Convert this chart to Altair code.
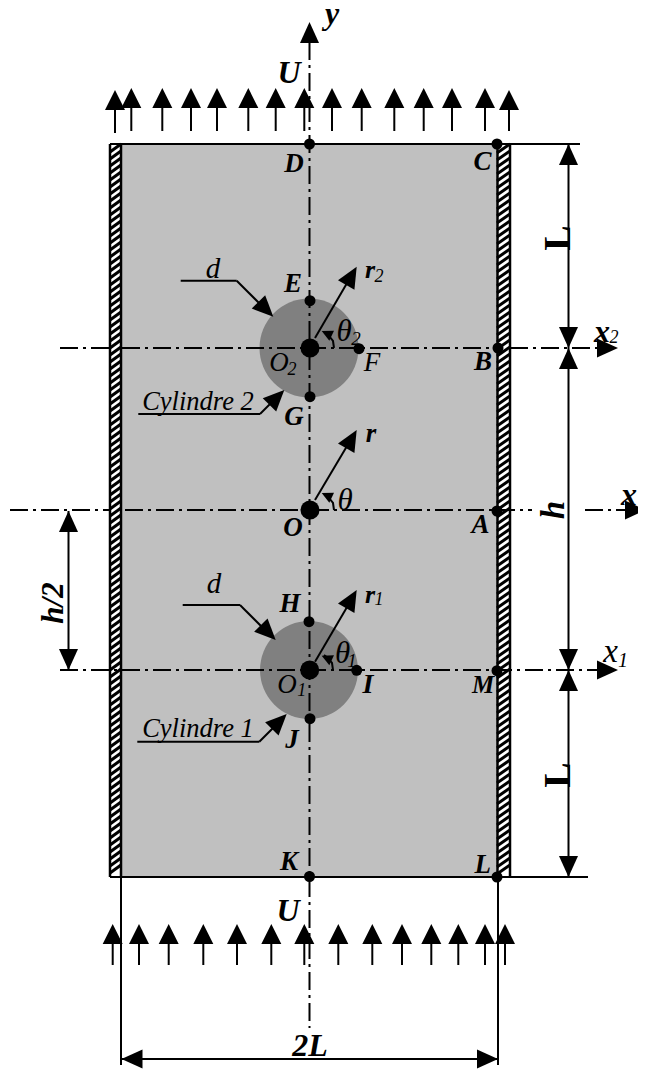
import altair as alt
import pandas as pd

# ---- picture coordinates of the schematic ----
top_x = [115,131.3,162.3,191,217,248.3,275.7,304.3,332,361.7,394.3,423.7,452,485,509]
top_tip = [90,88,88,88,88,88,88,88,88,88,88,88,88,88,90]
top_end = [133,131,131,131,131,131,131,131,131,131,131,131,131,131,131]
bot_x = [112.7,139,168.7,203.3,237,271.3,304.3,338.3,372.3,402,431.3,458.3,485,505]
bot_tip = 924
bot_end = 965

head_x = [309.5,568.5,568.5,568.5,568.5,568.5,568.5,68.5,68.5,618,646,618,121.5,498,273.3,284.3,275.7,286.7,356.7,356.7,356.7]
head_y = [22,144,348,348,670,670,877,511,670,348,510,670,1059,1059,316.7,390,640,714,266.7,430,590]
head_a = [0,0,180,0,180,0,180,0,180,90,90,90,270,90,135,45,135,45,30,30,30]

small_x = [321.7,321.7,321.7]
small_y = [331,493,655.7]
small_a = [295,295,295]

solid_x1 = [110,110,568.5,68.5,121,498,121.5,180.7,236.7,138.3,260,182.7,240,137.3,259.3,315,315,315]
solid_y1 = [144,877,144,511,877,877,1059,280.7,280.7,414,414,605,605,741.7,741.7,338,500,661.7]
solid_x2 = [580,588,568.5,68.5,121,498,498,236.7,268,260,280,240,270,259.3,283,350,350,350]
solid_y2 = [144,877,877,670,1065,1065,1059,280.7,312,414,394,605,635,741.7,718,278,441,602]

dash_x1 = [309.5,60,122,510,10,125,585,60]
dash_y1 = [42,348,348,348,510,510,510,670]
dash_x2 = [309.5,110,497,600,110,532,632,600]
dash_y2 = [1028,348,348,348,510,510,510,670]

arc_group = ["a","a","a","a","b","b","b","b","c","c","c","c"]
arc_order = [0,1,2,3,0,1,2,3,0,1,2,3]
arc_x = [334,333,329,325,334,333,329,325,333,332,328,324]
arc_y = [348,341,336,333,510,503,498,495,670,663,658,655]

dot_x = [309.5,497,310,359,310,498,497,309,356.7,310,497,309.5,497,310,310,309.7]
dot_y = [144,144,300.7,348.7,396.7,348,511,621.7,670.3,718.7,670.7,876.5,877,348,510,670]
dot_d = [11,11,11,11,11,11,11,11,11,11,11,11,11,19,19,19]

cyl_x = [309,309]
cyl_y = [348,670]
cyl_d = [99,98]

wall_x1 = [110,497]
wall_x2 = [121,510]
wall_top = 144
wall_bottom = 877
hatch_y = list(range(144, 870, 7))

bi_text = ["y","U","D","C","E","r","r","G","O","A","B","x","x","H","r","I","J","M","K","L","U","2L"]
bi_x = [332,289,294,482.5,293,370,371,294,293,480.5,483,602,629,290,370,368,292,483,289,482.7,288,310]
bi_y = [24,83,172,170,291.7,278,441.7,425,536,533,370,342,505,611.7,603,693,748,692.7,870,872.7,920.7,1055.7]
bi_s = [32,32,27,27,27,26,27,27,27,27,27,32,32,27,26,28,27,25,27,27,32,32]

i_text = ["θ","F","O","d","Cylindre 2","θ","θ","O","Cylindre 1","d","x"]
i_x = [344,372,279,213,198,345,342.7,287,198,214,610.7]
i_y = [340.7,370.7,370.7,278,410,510,663,693,736.7,592.7,661.7]
i_s = [31,27,27,29,26.5,31,31,27,26.5,29,33]

sub_text = ["2","2","2","2","1","1","1","1"]
sub_x = [379,356,292,614,379,352,301.7,623]
sub_y = [282,345,375,343,605,666.7,696,666.7]
sub_s = [18,19,18,18,18,19,18,20]

rot_text = ["L","L","h"]
rot_x = [570,570,564]
rot_y = [238,775,510]
rot_s = [38,38,33]
rot_half_text = ["h/2"]
rot_half_x = [63]
rot_half_y = [603]
rot_half_s = [31]

GRAY = "#c0c0c0"
CYL = "#808080"
SERIF = "Liberation Serif"

sx = alt.Scale(domain=[8, 638], range=[0, 630], nice=False, zero=False)
sy = alt.Scale(domain=[8, 1070], range=[0, 1062], nice=False, zero=False)
X = lambda f="x": alt.X(f"{f}:Q", scale=sx, axis=None)
Y = lambda f="y": alt.Y(f"{f}:Q", scale=sy, axis=None)

def rules(x1, y1, x2, y2, **kw):
    df = pd.DataFrame({"x": x1, "y": y1, "x2": x2, "y2": y2})
    return alt.Chart(df).mark_rule(color="black", **kw).encode(
        x=X(), y=Y(), x2="x2:Q", y2="y2:Q")

def rects(x1, y1, x2, y2, color):
    df = pd.DataFrame({"x": x1, "y": y1, "x2": x2, "y2": y2})
    return alt.Chart(df).mark_rect(color=color, strokeWidth=0).encode(
        x=X(), y=Y(), x2="x2:Q", y2="y2:Q")

def heads(x, y, a, size, path="M0,0L-1,2L1,2Z"):
    df = pd.DataFrame({"x": x, "y": y, "a": a})
    return alt.Chart(df).mark_point(filled=True, shape=path, size=size, color="black",
                                    opacity=1, strokeWidth=0).encode(
        x=X(), y=Y(), angle=alt.Angle("a:Q", scale=None))

def circles(x, y, d, color):
    df = pd.DataFrame({"x": x, "y": y, "s": [v * v for v in d]})
    return alt.Chart(df).mark_point(filled=True, shape="circle", color=color,
                                    opacity=1, strokeWidth=0).encode(
        x=X(), y=Y(), size=alt.Size("s:Q", scale=None))

def texts(t, x, y, s, angle=0, **kw):
    df = pd.DataFrame({"t": t, "x": x, "y": y, "s": s})
    return alt.Chart(df).mark_text(font=SERIF, color="black", align="center",
                                   baseline="alphabetic", angle=angle, **kw).encode(
        x=X(), y=Y(), text="t:N", size=alt.Size("s:Q", scale=None))

n_top = len(top_x)
n_bot = len(bot_x)
hatch_left = [wall_x1[0]] * len(hatch_y)
layers = [
    rects([121], [wall_top], [497], [wall_bottom], GRAY),
    rects(wall_x1, [wall_top] * 2, wall_x2, [wall_bottom] * 2, "white"),
    rules(hatch_left, [v + 8 for v in hatch_y], [wall_x2[0]] * len(hatch_y), hatch_y, strokeWidth=3),
    rules([wall_x1[1]] * len(hatch_y), [v + 9 for v in hatch_y], [wall_x2[1]] * len(hatch_y), hatch_y, strokeWidth=3),
    rules([110, 121, 497.5, 510], [144] * 4, [110, 121, 497.5, 510], [877] * 4, strokeWidth=2.5),
    circles(cyl_x, cyl_y, cyl_d, CYL),
    rules(dash_x1, dash_y1, dash_x2, dash_y2, strokeWidth=2, strokeDash=[18, 5, 3, 5]),
    rules(solid_x1, solid_y1, solid_x2, solid_y2, strokeWidth=2),
    rules(top_x, [t + 15 for t in top_tip], top_x, top_end, strokeWidth=2),
    rules(bot_x, [bot_tip + 15] * n_bot, bot_x, [bot_end] * n_bot, strokeWidth=2),
    alt.Chart(pd.DataFrame({"x": arc_x, "y": arc_y, "g": arc_group, "o": arc_order})).mark_line(
        color="black", strokeWidth=2).encode(x=X(), y=Y(), detail="g:N", order="o:Q"),
    heads(top_x, top_tip, [0] * n_top, 400),
    heads(bot_x, [bot_tip] * n_bot, [0] * n_bot, 400),
    heads(head_x, head_y, head_a, 400, "M0,0L-0.95,2.1L0.95,2.1Z"),
    heads(small_x, small_y, small_a, 121),
    texts(i_text, i_x, i_y, i_s, fontStyle="italic"),
    texts(sub_text, sub_x, sub_y, sub_s, fontStyle="italic"),
    texts(bi_text, bi_x, bi_y, bi_s, fontStyle="italic", fontWeight="bold"),
    texts(rot_text[:2], rot_x[:2], rot_y[:2], rot_s[:2], angle=270, fontWeight="bold"),
    texts(rot_text[2:], rot_x[2:], rot_y[2:], rot_s[2:], angle=270, fontStyle="italic", fontWeight="bold"),
    texts(rot_half_text, rot_half_x, rot_half_y, rot_half_s, angle=270, fontStyle="italic", fontWeight="bold"),
    circles(dot_x, dot_y, dot_d, "black"),
]

chart = alt.layer(*layers).properties(
    width=630, height=1062, padding=0, autosize=alt.AutoSizeParams(type="none"),
    background="white"
).configure_view(strokeWidth=0)

chart.save("out.html", embed_options={"renderer": "svg", "actions": False})
